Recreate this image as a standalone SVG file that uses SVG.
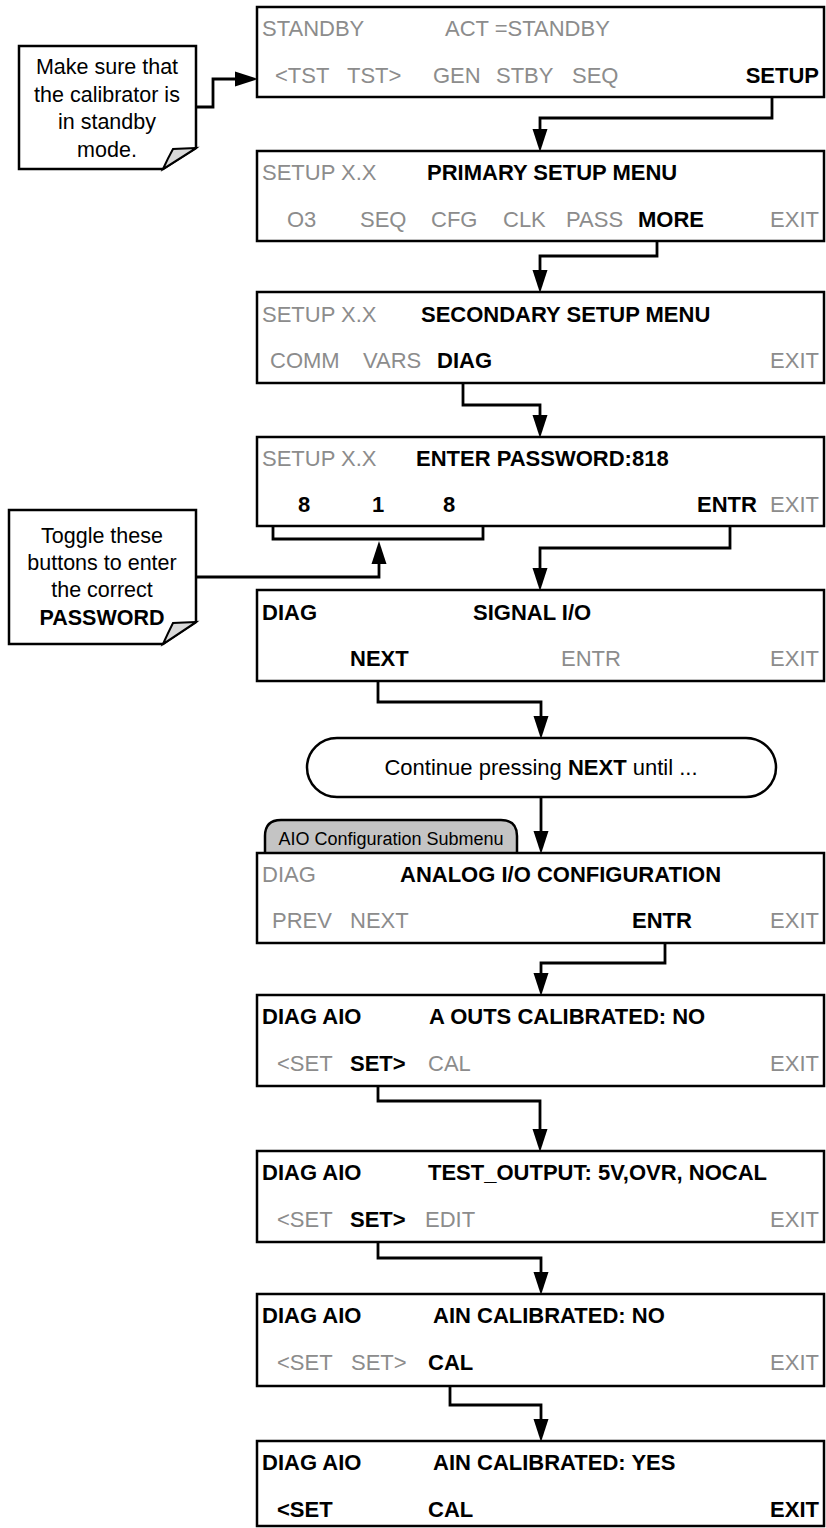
<svg xmlns="http://www.w3.org/2000/svg" width="826" height="1528" viewBox="0 0 826 1528">
<defs>
<style>
.box{fill:#fff;stroke:#000;stroke-width:2.5}
.t{font-family:"Liberation Sans",Arial,sans-serif;font-size:22px;fill:#000}
.g{fill:#8c8c8c}
.b{font-weight:bold}
.c{font-family:"Liberation Sans",Arial,sans-serif;font-size:21.5px;fill:#000;text-anchor:middle}
.conn{fill:none;stroke:#000;stroke-width:2.8}
.note{fill:#fff;stroke:#000;stroke-width:2.5}
.fold{fill:#d9d9d9;stroke:#000;stroke-width:2}
</style>
<marker id="ah" markerUnits="userSpaceOnUse" markerWidth="24" markerHeight="16" viewBox="0 0 24 16" refX="0" refY="8" orient="auto">
<path d="M0,0.5 L23,8 L0,15.5 z" fill="#000"/>
</marker>
</defs>

<g id="connectors">
<path class="conn" d="M196,107 H213 V79 H235" marker-end="url(#ah)"/>
<path class="conn" d="M772,88 V118 H540 V129" marker-end="url(#ah)"/>
<path class="conn" d="M657,232 V256 H540 V270" marker-end="url(#ah)"/>
<path class="conn" d="M463,373 V405 H540 V415" marker-end="url(#ah)"/>
<path class="conn" d="M273,495 V539 H483 V496"/>
<path class="conn" d="M196,577 H379 V564" marker-end="url(#ah)"/>
<path class="conn" d="M730,517 V548 H540 V568" marker-end="url(#ah)"/>
<path class="conn" d="M378,670 V702 H541 V716" marker-end="url(#ah)"/>
<path class="conn" d="M541,797 V831" marker-end="url(#ah)"/>
<path class="conn" d="M665,933 V963 H541 V973" marker-end="url(#ah)"/>
<path class="conn" d="M378,1077 V1101 H540 V1129" marker-end="url(#ah)"/>
<path class="conn" d="M378,1233 V1258 H541 V1272" marker-end="url(#ah)"/>
<path class="conn" d="M450,1376 V1405 H541 V1419" marker-end="url(#ah)"/>
</g>

<g id="note1">
<path class="note" d="M19,46 H196 V148 L163,169 H19 Z"/>
<path class="fold" d="M196,148 L173,149 Q168,158 163,169 Z"/>
<text class="c" x="107" y="74">Make sure that</text>
<text class="c" x="107" y="102">the calibrator is</text>
<text class="c" x="107" y="129">in standby</text>
<text class="c" x="107" y="157">mode.</text>
</g>

<g id="note2">
<path class="note" d="M9,510 H196 V622 L163,644 H9 Z"/>
<path class="fold" d="M196,622 L173,623 Q168,633 163,644 Z"/>
<text class="c" x="102" y="543">Toggle these</text>
<text class="c" x="102" y="570">buttons to enter</text>
<text class="c" x="102" y="597">the correct</text>
<text class="c b" x="102" y="625">PASSWORD</text>
</g>

<g id="box1">
<rect class="box" x="257" y="7" width="567" height="90"/>
<text class="t g" x="262" y="36">STANDBY</text>
<text class="t g" x="445" y="36">ACT =STANDBY</text>
<text class="t g" x="275" y="83">&lt;TST</text>
<text class="t g" x="347" y="83">TST&gt;</text>
<text class="t g" x="433" y="83">GEN</text>
<text class="t g" x="496" y="83">STBY</text>
<text class="t g" x="572" y="83">SEQ</text>
<text class="t b" x="819" y="83" text-anchor="end">SETUP</text>
</g>

<g id="box2">
<rect class="box" x="257" y="151" width="567" height="90"/>
<text class="t g" x="262" y="180">SETUP X.X</text>
<text class="t b" x="427" y="180">PRIMARY SETUP MENU</text>
<text class="t g" x="287" y="227">O3</text>
<text class="t g" x="360" y="227">SEQ</text>
<text class="t g" x="431" y="227">CFG</text>
<text class="t g" x="503" y="227">CLK</text>
<text class="t g" x="566" y="227">PASS</text>
<text class="t b" x="638" y="227">MORE</text>
<text class="t g" x="819" y="227" text-anchor="end">EXIT</text>
</g>

<g id="box3">
<rect class="box" x="257" y="292" width="567" height="91"/>
<text class="t g" x="262" y="322">SETUP X.X</text>
<text class="t b" x="421" y="322">SECONDARY SETUP MENU</text>
<text class="t g" x="270" y="368">COMM</text>
<text class="t g" x="363" y="368">VARS</text>
<text class="t b" x="437" y="368">DIAG</text>
<text class="t g" x="819" y="368" text-anchor="end">EXIT</text>
</g>

<g id="box4">
<rect class="box" x="257" y="437" width="567" height="89"/>
<text class="t g" x="262" y="466">SETUP X.X</text>
<text class="t b" x="416" y="466">ENTER PASSWORD:818</text>
<text class="t b" x="298" y="512">8</text>
<text class="t b" x="372" y="512">1</text>
<text class="t b" x="443" y="512">8</text>
<text class="t b" x="697" y="512">ENTR</text>
<text class="t g" x="819" y="512" text-anchor="end">EXIT</text>
</g>

<g id="box5">
<rect class="box" x="257" y="590" width="567" height="91"/>
<text class="t b" x="262" y="620">DIAG</text>
<text class="t b" x="473" y="620">SIGNAL I/O</text>
<text class="t b" x="350" y="666">NEXT</text>
<text class="t g" x="561" y="666">ENTR</text>
<text class="t g" x="819" y="666" text-anchor="end">EXIT</text>
</g>

<g id="pill">
<rect class="box" x="307" y="738" width="469" height="59" rx="30" ry="29.5"/>
<text class="t" x="541" y="775" text-anchor="middle">Continue pressing <tspan class="b">NEXT</tspan> until ...</text>
</g>

<g id="tab">
<path d="M265,853 V836 Q265,820 281,820 H501 Q517,820 517,836 V853" fill="#c4c4c4" stroke="#000" stroke-width="2.5"/>
<text x="391" y="845" text-anchor="middle" font-family="Liberation Sans, Arial, sans-serif" font-size="18" fill="#000">AIO Configuration Submenu</text>
</g>

<g id="box6">
<rect class="box" x="257" y="853" width="567" height="90"/>
<text class="t g" x="262" y="882">DIAG</text>
<text class="t b" x="400" y="882">ANALOG I/O CONFIGURATION</text>
<text class="t g" x="272" y="928">PREV</text>
<text class="t g" x="350" y="928">NEXT</text>
<text class="t b" x="632" y="928">ENTR</text>
<text class="t g" x="819" y="928" text-anchor="end">EXIT</text>
</g>

<g id="box7">
<rect class="box" x="257" y="995" width="567" height="91"/>
<text class="t b" x="262" y="1024">DIAG AIO</text>
<text class="t b" x="429" y="1024">A OUTS CALIBRATED: NO</text>
<text class="t g" x="277" y="1071">&lt;SET</text>
<text class="t b" x="350" y="1071">SET&gt;</text>
<text class="t g" x="428" y="1071">CAL</text>
<text class="t g" x="819" y="1071" text-anchor="end">EXIT</text>
</g>

<g id="box8">
<rect class="box" x="257" y="1151" width="567" height="91"/>
<text class="t b" x="262" y="1180">DIAG AIO</text>
<text class="t b" x="428" y="1180">TEST_OUTPUT: 5V,OVR, NOCAL</text>
<text class="t g" x="277" y="1227">&lt;SET</text>
<text class="t b" x="350" y="1227">SET&gt;</text>
<text class="t g" x="425" y="1227">EDIT</text>
<text class="t g" x="819" y="1227" text-anchor="end">EXIT</text>
</g>

<g id="box9">
<rect class="box" x="257" y="1294" width="567" height="92"/>
<text class="t b" x="262" y="1323">DIAG AIO</text>
<text class="t b" x="433" y="1323">AIN CALIBRATED: NO</text>
<text class="t g" x="277" y="1370">&lt;SET</text>
<text class="t g" x="351" y="1370">SET&gt;</text>
<text class="t b" x="428" y="1370">CAL</text>
<text class="t g" x="819" y="1370" text-anchor="end">EXIT</text>
</g>

<g id="box10">
<rect class="box" x="257" y="1441" width="567" height="85"/>
<text class="t b" x="262" y="1470">DIAG AIO</text>
<text class="t b" x="433" y="1470">AIN CALIBRATED: YES</text>
<text class="t b" x="277" y="1517">&lt;SET</text>
<text class="t b" x="428" y="1517">CAL</text>
<text class="t b" x="819" y="1517" text-anchor="end">EXIT</text>
</g>
</svg>
